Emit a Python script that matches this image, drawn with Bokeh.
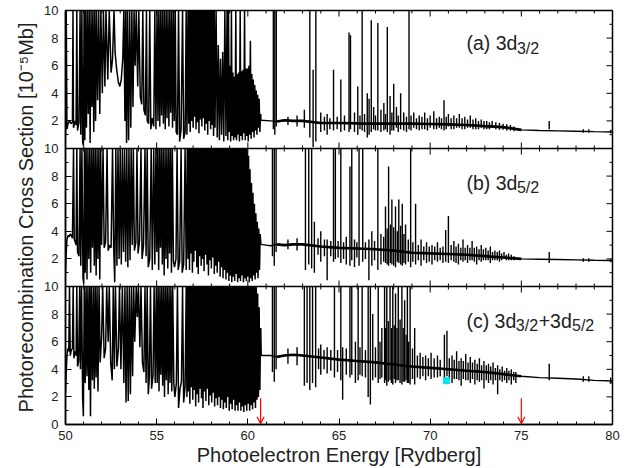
import numpy as np
from bokeh.plotting import figure
from bokeh.models import FixedTicker, Span, Arrow, OpenHead, Label, ColumnDataSource
from bokeh.embed import file_html
from bokeh.resources import INLINE

# ---------------- data (12 = off-scale, clipped at 10) ----------------
x_major_ticks = [50, 55, 60, 65, 70, 75, 80]
y_tick_values = [0, 2, 4, 6, 8, 10]

# (a) 3d3/2 : dense resonance region, vertices (energy, cross section)
a_dense = [
    (50.00, 1.0), (50.04, 12), (50.08, 1.4), (50.14, 1.8), (50.22, 2.0), (50.30, 1.8), (50.38, 1.9), (50.41, 12),
    (50.44, 1.5), (50.52, 2.0), (50.58, 1.7), (50.62, 12), (50.66, 1.3), (50.74, 1.9), (50.80, 12), (50.84, 1.0),
    (50.90, 12), (50.94, 0.5), (50.98, 0.2), (51.02, 12), (51.06, 0.6), (51.10, 12), (51.15, 1.5), (51.20, 12),
    (51.25, 2.5), (51.30, 12), (51.35, 0.4), (51.40, 12), (51.45, 3.0), (51.50, 12), (51.55, 1.2), (51.60, 12),
    (51.65, 2.0), (51.70, 12), (51.76, 3.5), (51.82, 12), (51.88, 2.5), (51.94, 12), (52.02, 4.0), (52.08, 12),
    (52.16, 4.5), (52.22, 12), (52.32, 5.0), (52.40, 12), (52.50, 5.5), (52.58, 6.5), (52.66, 12), (52.72, 7.0),
    (52.80, 5.8), (52.90, 4.8), (52.98, 4.5), (53.06, 5.0), (53.14, 6.5), (53.20, 12), (53.26, 2.0), (53.30, 12),
    (53.35, 0.4), (53.40, 12), (53.46, 0.6), (53.52, 12), (53.58, 1.5), (53.64, 12), (53.70, 3.0), (53.76, 12),
    (53.82, 6.0), (53.88, 12), (53.96, 4.5), (54.02, 12), (54.10, 3.8), (54.18, 3.2), (54.24, 12), (54.30, 2.8),
    (54.38, 2.4), (54.44, 12), (54.48, 2.0), (54.56, 1.8), (54.62, 12), (54.68, 1.4), (54.76, 2.2), (54.84, 1.6),
    (54.90, 12), (54.96, 1.4), (55.02, 12), (55.07, 2.0), (55.12, 12), (55.17, 1.6), (55.22, 12), (55.27, 2.4),
    (55.32, 12), (55.37, 1.8), (55.42, 12), (55.47, 1.4), (55.52, 12), (55.57, 2.2), (55.62, 12), (55.67, 1.6),
    (55.72, 12), (55.77, 2.6), (55.82, 12), (55.87, 1.5), (55.92, 12), (55.97, 2.0), (56.02, 12), (56.07, 1.2),
    (56.14, 1.0), (56.20, 12), (56.26, 0.5), (56.34, 1.4), (56.42, 12), (56.48, 0.7), (56.56, 1.2), (56.62, 12),
    (56.66, 1.0), (56.72, 12), (56.76, 1.8), (56.80, 12), (56.84, 1.2), (56.88, 12), (56.92, 2.0), (56.96, 12),
    (57.00, 1.5), (57.04, 12), (57.08, 2.3), (57.12, 12), (57.16, 1.4), (57.20, 12), (57.24, 1.9), (57.28, 12),
    (57.32, 1.1), (57.36, 12), (57.40, 2.1), (57.44, 12), (57.48, 1.6), (57.52, 12), (57.56, 2.2), (57.60, 12),
    (57.64, 1.3), (57.68, 12), (57.72, 1.8), (57.76, 12), (57.80, 1.0), (57.84, 12), (57.88, 2.0), (57.92, 12),
    (57.96, 1.4), (58.00, 12), (58.04, 1.7), (58.08, 12), (58.12, 0.9), (58.16, 12), (58.20, 1.5), (58.26, 12),
    (58.32, 0.8), (58.38, 7.5), (58.44, 0.6), (58.50, 6.5), (58.56, 1.0), (58.62, 7.0), (58.68, 0.5), (58.74, 12),
    (58.80, 0.9), (58.86, 12), (58.90, 0.6), (58.94, 12), (58.98, 1.2), (59.02, 6.0), (59.06, 0.5), (59.10, 12),
    (59.14, 0.9), (59.18, 5.5), (59.22, 0.6), (59.26, 5.2), (59.30, 0.8), (59.34, 12), (59.38, 0.6), (59.42, 5.4),
    (59.46, 1.0), (59.50, 5.5), (59.54, 0.5), (59.58, 12), (59.62, 0.9), (59.66, 5.6), (59.70, 0.6), (59.74, 5.7),
    (59.78, 1.1), (59.82, 12), (59.86, 0.6), (59.90, 5.8), (59.94, 0.9), (59.98, 5.8), (60.02, 0.5), (60.06, 6.0),
    (60.10, 1.0), (60.14, 7.8), (60.18, 0.7), (60.22, 5.4), (60.26, 1.2), (60.30, 5.0), (60.34, 0.8), (60.38, 4.6),
    (60.42, 1.3), (60.46, 4.2), (60.50, 1.0), (60.54, 3.9), (60.58, 1.5), (60.62, 3.6), (60.66, 1.2), (60.70, 2.5),
]
a_base = [
    (60.72, 2.05), (61.25, 2.0), (61.6, 1.95), (62.0, 2.05), (62.5, 2.0), (63.0, 2.0), (64.0, 1.85), (65.0, 1.85),
    (66.0, 1.82), (67.0, 1.8), (68.0, 1.8), (69.0, 1.8), (70.0, 1.78), (71.0, 1.75), (72.0, 1.7), (73.0, 1.62),
    (74.0, 1.55), (75.0, 1.35), (76.0, 1.3), (77.0, 1.28), (78.0, 1.25), (79.0, 1.22), (80.0, 1.2),
]
# isolated resonances: (energy, top, bottom)
a_spikes = [
    (61.40, 12, 1.4), (61.48, 12, 1.0), (61.56, 12, 1.6), (62.20, 2.3, 1.7), (62.70, 2.4, 1.6), (63.10, 2.8, 1.5),
    (63.40, 12, 0.8), (63.58, 5.7, 0.1), (63.73, 12, 0.5), (64.00, 2.6, 1.2), (64.20, 2.3, 1.3), (64.35, 2.5, 1.0),
    (64.50, 2.2, 1.4), (64.70, 5.7, 1.3), (64.90, 2.3, 1.4), (65.10, 5.0, 1.2), (65.30, 2.4, 1.3), (65.55, 8.4, 1.2),
    (65.63, 8.2, 1.4), (65.85, 2.6, 1.2), (66.03, 4.5, 1.0), (66.15, 2.4, 1.4), (66.27, 12, 1.3), (66.40, 2.5, 1.2),
    (66.55, 4.0, 0.8), (66.65, 3.6, 1.0), (66.77, 9.3, 1.2), (66.90, 3.0, 1.4), (67.00, 2.4, 1.3), (67.13, 9.1, 1.3),
    (67.30, 2.8, 1.2), (67.46, 3.3, 1.3), (67.55, 2.5, 1.4), (67.65, 8.8, 1.2), (67.80, 3.8, 1.0), (67.90, 2.6, 1.3),
    (68.00, 4.7, 1.3), (68.15, 3.0, 1.5), (68.25, 2.4, 1.2), (68.38, 4.0, 1.4), (68.55, 2.6, 1.3), (68.70, 2.3, 1.2),
    (68.84, 12, 1.4), (68.95, 2.4, 1.3), (69.10, 2.6, 1.5), (69.25, 2.2, 1.4), (69.40, 2.4, 1.3), (69.55, 2.3, 1.4),
    (69.70, 2.6, 1.4), (69.85, 2.2, 1.3), (70.00, 2.4, 1.5), (70.20, 2.7, 1.4), (70.35, 2.2, 1.4), (70.50, 2.3, 1.5),
    (70.62, 2.2, 1.4), (70.76, 3.5, 1.3), (70.88, 2.3, 1.4), (71.00, 2.5, 1.6), (71.15, 2.2, 1.4), (71.30, 2.4, 1.4),
    (71.45, 2.2, 1.5), (71.60, 2.5, 1.5), (71.75, 2.2, 1.4), (71.90, 2.3, 1.4), (72.05, 2.1, 1.5), (72.20, 2.4, 1.5),
    (72.35, 2.1, 1.4), (72.50, 2.2, 1.4), (72.65, 2.0, 1.4), (72.80, 2.1, 1.5), (72.95, 2.0, 1.4), (73.10, 2.0, 1.4),
    (73.25, 1.9, 1.4), (73.40, 2.0, 1.5), (73.60, 1.9, 1.4), (73.80, 1.85, 1.35), (74.00, 1.8, 1.35),
    (74.20, 1.75, 1.3), (74.40, 1.7, 1.3), (74.60, 1.6, 1.25), (76.53, 2.0, 1.4), (78.40, 1.4, 1.15),
    (78.70, 1.4, 1.15), (79.90, 1.35, 1.1),
]

# (b) 3d5/2
b_dense = [
    (50.00, 1.0), (50.04, 2.5), (50.08, 3.4), (50.14, 3.7), (50.20, 3.6), (50.26, 3.8), (50.32, 3.7), (50.38, 3.5),
    (50.44, 12), (50.48, 3.4), (50.54, 3.2), (50.58, 3.0), (50.62, 12), (50.66, 2.5), (50.74, 2.2), (50.80, 12),
    (50.84, 1.5), (50.90, 12), (50.96, 0.6), (51.00, 0.2), (51.04, 12), (51.08, 1.0), (51.13, 12), (51.18, 0.5),
    (51.23, 12), (51.28, 2.0), (51.33, 12), (51.38, 1.0), (51.43, 12), (51.48, 2.8), (51.53, 12), (51.58, 1.5),
    (51.63, 12), (51.68, 0.8), (51.73, 12), (51.78, 2.0), (51.83, 12), (51.88, 0.5), (51.93, 12), (51.98, 3.0),
    (52.06, 12), (52.12, 2.8), (52.20, 3.2), (52.28, 12), (52.34, 2.6), (52.42, 3.0), (52.50, 2.8), (52.58, 12),
    (52.64, 3.0), (52.70, 0.3), (52.76, 12), (52.82, 1.5), (52.88, 12), (52.94, 2.0), (53.00, 12), (53.06, 1.6),
    (53.12, 12), (53.18, 2.5), (53.24, 12), (53.30, 1.8), (53.36, 12), (53.42, 1.4), (53.48, 12), (53.54, 1.9),
    (53.60, 12), (53.66, 3.0), (53.72, 12), (53.78, 2.6), (53.86, 3.2), (53.92, 12), (53.98, 2.4), (54.06, 3.3),
    (54.14, 12), (54.20, 2.0), (54.28, 3.0), (54.36, 12), (54.42, 2.2), (54.48, 12), (54.54, 1.4), (54.62, 2.0),
    (54.70, 12), (54.76, 1.2), (54.84, 12), (54.90, 1.6), (54.96, 12), (55.01, 2.5), (55.06, 12), (55.11, 1.2),
    (55.16, 12), (55.21, 2.8), (55.26, 12), (55.31, 1.6), (55.36, 12), (55.41, 0.8), (55.46, 12), (55.51, 2.0),
    (55.56, 12), (55.61, 1.3), (55.66, 12), (55.71, 2.4), (55.76, 12), (55.81, 1.0), (55.86, 12), (55.92, 1.8),
    (55.98, 1.4), (56.06, 2.0), (56.12, 12), (56.18, 1.2), (56.26, 1.8), (56.34, 12), (56.40, 1.0), (56.48, 1.6),
    (56.56, 12), (56.62, 1.2), (56.68, 12), (56.72, 2.0), (56.76, 12), (56.80, 1.2), (56.84, 12), (56.88, 2.4),
    (56.92, 12), (56.96, 1.0), (57.00, 12), (57.04, 1.8), (57.08, 12), (57.12, 2.6), (57.16, 12), (57.20, 1.4),
    (57.24, 12), (57.28, 0.9), (57.32, 12), (57.36, 2.2), (57.40, 12), (57.44, 1.5), (57.48, 12), (57.52, 2.0),
    (57.56, 12), (57.60, 1.1), (57.64, 12), (57.68, 2.3), (57.72, 12), (57.76, 1.6), (57.80, 12), (57.84, 0.8),
    (57.88, 12), (57.92, 1.9), (57.96, 12), (58.00, 1.3), (58.04, 12), (58.08, 2.1), (58.12, 12), (58.16, 0.9),
    (58.20, 12), (58.24, 1.5), (58.28, 12), (58.32, 1.0), (58.36, 12), (58.40, 1.8), (58.44, 12), (58.48, 0.7),
    (58.52, 12), (58.56, 1.4), (58.60, 12), (58.64, 0.6), (58.68, 12), (58.72, 1.2), (58.76, 12), (58.80, 0.5),
    (58.84, 12), (58.88, 1.0), (58.92, 12), (58.96, 0.4), (59.00, 12), (59.04, 0.8), (59.08, 12), (59.12, 0.3),
    (59.16, 12), (59.20, 0.7), (59.24, 12), (59.28, 0.4), (59.32, 12), (59.36, 0.9), (59.40, 12), (59.44, 0.3),
    (59.48, 12), (59.52, 0.6), (59.56, 12), (59.60, 0.4), (59.64, 12), (59.68, 0.8), (59.72, 12), (59.76, 0.3),
    (59.80, 12), (59.84, 0.6), (59.88, 12), (59.92, 0.4), (59.96, 12), (60.00, 0.7), (60.04, 9.5), (60.08, 0.3),
    (60.12, 8.5), (60.16, 0.6), (60.20, 7.5), (60.24, 0.4), (60.28, 6.8), (60.32, 0.8), (60.36, 6.0), (60.40, 0.5),
    (60.44, 5.3), (60.48, 1.0), (60.52, 4.7), (60.56, 0.6), (60.60, 4.2), (60.64, 1.2), (60.68, 3.8),
]
b_base = [
    (60.72, 3.05), (61.0, 3.0), (61.25, 2.95), (61.6, 3.05), (62.0, 3.0), (62.5, 3.05), (63.0, 3.05), (64.0, 2.9),
    (65.0, 2.8), (66.0, 2.75), (67.0, 2.7), (68.0, 2.6), (69.0, 2.45), (70.0, 2.4), (71.0, 2.35), (72.0, 2.3),
    (73.0, 2.2), (74.0, 2.1), (75.0, 2.0), (76.0, 1.98), (77.0, 1.96), (78.0, 1.93), (79.0, 1.9), (80.0, 1.88),
]
b_spikes = [
    (61.35, 12, 2.2), (61.45, 12, 1.5), (61.55, 12, 2.5), (62.20, 3.4, 2.7), (62.70, 3.5, 2.6), (63.16, 12, 1.2),
    (63.34, 12, 1.6), (63.50, 12, 1.3), (63.65, 4.7, 1.0), (63.85, 3.5, 2.3), (64.00, 4.0, 1.8), (64.20, 3.4, 2.2),
    (64.35, 3.4, 0.45), (64.55, 3.3, 2.2), (64.70, 12, 1.8), (64.80, 12, 2.0), (64.95, 3.3, 2.1), (65.10, 12, 1.7),
    (65.25, 3.2, 2.0), (65.40, 3.6, 1.6), (65.60, 8.7, 1.5), (65.70, 12, 1.9), (65.85, 3.4, 1.4), (65.98, 3.2, 2.1),
    (66.10, 12, 1.5), (66.30, 12, 1.8), (66.45, 3.2, 2.0), (66.64, 3.4, 0.45), (66.80, 4.0, 1.5), (66.95, 3.3, 1.9),
    (67.13, 12, 1.2), (67.30, 3.8, 1.6), (67.45, 3.6, 1.8), (67.55, 5.8, 1.7), (67.64, 4.2, 1.6), (67.72, 8.7, 1.5),
    (67.82, 4.5, 1.7), (67.90, 6.3, 1.6), (68.00, 4.3, 1.5), (68.10, 5.8, 1.4), (68.20, 4.0, 1.8), (68.28, 6.3, 1.7),
    (68.38, 4.4, 1.6), (68.47, 6.0, 1.5), (68.56, 3.8, 1.7), (68.65, 4.5, 1.6), (68.80, 3.4, 1.8), (68.93, 12, 1.4),
    (69.05, 3.2, 1.8), (69.20, 6.0, 1.6), (69.35, 3.0, 1.9), (69.50, 3.4, 1.5), (69.65, 2.9, 1.9), (69.80, 3.2, 1.7),
    (69.95, 2.9, 1.8), (70.10, 3.0, 1.6), (70.25, 2.9, 1.9), (70.40, 3.2, 1.8), (70.55, 2.8, 1.9), (70.70, 2.9, 1.7),
    (70.85, 4.1, 1.8), (71.00, 5.1, 1.7), (71.15, 3.0, 1.9), (71.30, 3.3, 1.8), (71.42, 2.9, 1.7), (71.55, 3.1, 1.6),
    (71.68, 2.8, 1.9), (71.80, 3.4, 1.8), (71.92, 2.8, 1.9), (72.05, 3.0, 1.7), (72.18, 2.8, 1.9), (72.30, 3.3, 1.9),
    (72.42, 2.8, 1.8), (72.55, 2.9, 1.6), (72.68, 2.7, 1.9), (72.80, 3.0, 1.8), (72.92, 2.7, 1.9), (73.05, 2.8, 1.9),
    (73.18, 2.6, 1.9), (73.30, 2.9, 1.7), (73.42, 2.5, 1.9), (73.55, 2.6, 1.9), (73.68, 2.5, 1.9), (73.80, 2.6, 1.8),
    (73.92, 2.4, 1.9), (74.05, 2.5, 2.0), (74.18, 2.3, 1.9), (74.30, 2.4, 1.9), (74.45, 2.3, 1.9), (74.60, 2.2, 1.9),
    (76.53, 2.5, 1.7), (78.40, 2.05, 1.8), (78.70, 2.05, 1.8), (79.90, 2.0, 1.75),
]

# (c) 3d3/2 + 3d5/2
c_dense = [
    (50.00, 2.3), (50.04, 3.8), (50.08, 5.0), (50.12, 5.5), (50.18, 5.3), (50.22, 12), (50.26, 5.0), (50.32, 5.4),
    (50.38, 5.5), (50.42, 12), (50.46, 4.8), (50.52, 5.3), (50.58, 5.0), (50.62, 12), (50.66, 4.2), (50.72, 4.6),
    (50.78, 12), (50.82, 4.0), (50.88, 12), (50.94, 2.0), (50.98, 0.6), (51.03, 12), (51.08, 3.0), (51.13, 12),
    (51.18, 3.5), (51.23, 12), (51.28, 2.5), (51.33, 12), (51.37, 0.6), (51.42, 12), (51.48, 3.2), (51.53, 12),
    (51.58, 2.6), (51.63, 12), (51.68, 3.4), (51.73, 12), (51.78, 2.4), (51.84, 12), (51.90, 4.5), (51.98, 6.3),
    (52.04, 12), (52.12, 4.8), (52.20, 5.5), (52.26, 12), (52.34, 6.0), (52.40, 12), (52.48, 4.5), (52.56, 3.2),
    (52.62, 12), (52.68, 4.0), (52.74, 12), (52.82, 4.2), (52.90, 5.5), (52.96, 12), (53.04, 4.0), (53.12, 12),
    (53.20, 3.0), (53.26, 12), (53.32, 1.6), (53.38, 12), (53.44, 1.7), (53.50, 12), (53.56, 2.2), (53.62, 12),
    (53.68, 3.5), (53.74, 12), (53.80, 6.0), (53.88, 12), (53.94, 7.8), (54.00, 12), (54.08, 5.6), (54.14, 12),
    (54.22, 4.5), (54.30, 3.8), (54.36, 12), (54.42, 3.0), (54.48, 12), (54.54, 2.2), (54.60, 3.5), (54.66, 12),
    (54.72, 2.6), (54.80, 3.6), (54.86, 12), (54.92, 3.0), (54.98, 12), (55.03, 3.0), (55.08, 12), (55.13, 2.4),
    (55.18, 12), (55.23, 3.6), (55.28, 12), (55.33, 2.8), (55.38, 12), (55.43, 2.0), (55.48, 12), (55.53, 3.2),
    (55.58, 12), (55.63, 2.2), (55.68, 12), (55.73, 3.0), (55.78, 12), (55.83, 2.4), (55.88, 12), (55.94, 3.0),
    (56.00, 2.0), (56.08, 3.0), (56.14, 12), (56.20, 1.2), (56.28, 2.6), (56.36, 3.1), (56.42, 12), (56.48, 1.6),
    (56.56, 2.8), (56.62, 12), (56.66, 2.0), (56.70, 12), (56.74, 2.4), (56.78, 12), (56.82, 1.5), (56.86, 12),
    (56.90, 2.7), (56.94, 12), (56.98, 1.8), (57.02, 12), (57.06, 2.5), (57.10, 12), (57.14, 1.3), (57.18, 12),
    (57.22, 2.2), (57.26, 12), (57.30, 1.6), (57.34, 12), (57.38, 2.6), (57.42, 12), (57.46, 1.9), (57.50, 12),
    (57.54, 1.2), (57.58, 12), (57.62, 2.4), (57.66, 12), (57.70, 1.7), (57.74, 12), (57.78, 2.6), (57.82, 12),
    (57.86, 1.4), (57.90, 12), (57.94, 2.1), (57.98, 12), (58.02, 1.6), (58.06, 12), (58.10, 2.3), (58.14, 12),
    (58.18, 1.3), (58.22, 12), (58.26, 1.9), (58.30, 12), (58.34, 1.4), (58.38, 12), (58.42, 2.0), (58.46, 12),
    (58.50, 1.2), (58.54, 12), (58.58, 1.8), (58.62, 12), (58.66, 1.1), (58.70, 12), (58.74, 1.6), (58.78, 12),
    (58.82, 1.2), (58.86, 12), (58.90, 2.0), (58.94, 12), (58.98, 1.0), (59.02, 12), (59.06, 1.5), (59.10, 12),
    (59.14, 1.1), (59.18, 12), (59.22, 1.8), (59.26, 12), (59.30, 1.0), (59.34, 12), (59.38, 1.4), (59.42, 12),
    (59.46, 1.0), (59.50, 12), (59.54, 1.6), (59.58, 12), (59.62, 1.0), (59.66, 12), (59.70, 1.3), (59.74, 12),
    (59.78, 0.9), (59.82, 12), (59.86, 1.4), (59.90, 12), (59.94, 1.0), (59.98, 12), (60.02, 1.5), (60.06, 12),
    (60.10, 1.0), (60.14, 12), (60.18, 1.4), (60.22, 12), (60.26, 1.1), (60.30, 12), (60.34, 1.6), (60.38, 12),
    (60.42, 1.2), (60.46, 11), (60.50, 1.8), (60.54, 9.5), (60.58, 2.0), (60.62, 8.5), (60.66, 2.5), (60.70, 7.0),
]
c_base = [
    (60.74, 5.0), (61.25, 5.0), (61.6, 4.9), (62.0, 5.0), (62.5, 5.05), (63.0, 5.0), (64.0, 4.85), (65.0, 4.7),
    (66.0, 4.6), (67.0, 4.5), (68.0, 4.35), (69.0, 4.2), (70.0, 4.1), (71.0, 4.0), (72.0, 3.9), (73.0, 3.8),
    (74.0, 3.65), (75.0, 3.5), (76.0, 3.4), (77.0, 3.35), (78.0, 3.3), (79.0, 3.2), (80.0, 3.15),
]
c_spikes = [
    (61.35, 12, 3.8), (61.45, 12, 3.1), (61.55, 12, 4.0), (62.20, 5.5, 4.4), (62.70, 5.6, 4.3), (63.10, 12, 2.8),
    (63.25, 12, 3.0), (63.40, 12, 2.5), (63.55, 12, 3.0), (63.72, 12, 2.7), (63.88, 5.5, 4.0), (64.00, 5.8, 3.6),
    (64.18, 5.4, 4.0), (64.35, 5.6, 3.7), (64.55, 5.4, 3.9), (64.75, 12, 3.4), (64.92, 5.4, 3.8), (65.10, 12, 3.2),
    (65.20, 5.6, 1.8), (65.40, 5.5, 3.6), (65.60, 12, 3.4), (65.70, 12, 3.6), (65.90, 6.0, 3.0), (66.05, 12, 3.2),
    (66.15, 5.6, 3.6), (66.27, 12, 3.5), (66.45, 5.4, 3.4), (66.60, 12, 2.0), (66.72, 12, 1.45), (66.85, 8.0, 3.2),
    (67.00, 5.6, 3.4), (67.15, 12, 3.0), (67.25, 6.0, 3.3), (67.35, 7.0, 3.4), (67.50, 12, 3.0), (67.56, 7.0, 3.2),
    (67.62, 12, 2.8), (67.70, 7.5, 3.1), (67.80, 12, 3.2), (67.88, 7.0, 3.0), (67.95, 12, 2.9), (68.03, 7.2, 3.3),
    (68.10, 9.5, 3.0), (68.18, 7.0, 3.2), (68.25, 12, 3.2), (68.35, 7.6, 3.0), (68.45, 12, 2.9), (68.52, 7.0, 3.1),
    (68.60, 9.0, 3.1), (68.68, 6.5, 3.2), (68.75, 12, 3.0), (68.82, 6.0, 3.0), (68.90, 12, 2.9), (69.03, 5.5, 3.3),
    (69.15, 7.0, 2.9), (69.30, 5.0, 3.4), (69.45, 5.2, 3.3), (69.60, 4.9, 3.5), (69.75, 5.0, 3.2), (69.90, 4.8, 3.5),
    (70.05, 5.2, 3.3), (70.22, 4.8, 3.4), (70.40, 5.0, 3.4), (70.55, 4.7, 3.5), (70.78, 6.5, 3.2), (70.92, 6.8, 3.5),
    (71.05, 4.8, 3.2), (71.20, 5.0, 3.0), (71.32, 4.7, 3.3), (71.45, 5.3, 3.3), (71.58, 4.6, 3.2), (71.70, 4.8, 2.8),
    (71.82, 4.6, 3.3), (71.95, 5.1, 3.2), (72.08, 4.5, 3.2), (72.20, 4.9, 3.0), (72.32, 4.5, 3.3), (72.45, 4.7, 2.9),
    (72.58, 4.4, 3.2), (72.70, 4.8, 3.1), (72.82, 4.3, 3.2), (72.95, 4.6, 2.6), (73.08, 4.3, 3.2), (73.20, 4.4, 3.0),
    (73.32, 4.2, 3.2), (73.45, 4.5, 2.9), (73.58, 4.1, 3.2), (73.70, 4.3, 2.2), (73.82, 4.0, 3.2), (73.95, 4.2, 3.1),
    (74.08, 3.9, 3.2), (74.20, 4.1, 3.0), (74.32, 3.9, 3.2), (74.45, 4.0, 2.9), (74.58, 3.8, 3.2), (74.70, 3.8, 3.0),
    (76.53, 4.4, 3.2), (78.40, 3.5, 3.1), (78.70, 3.5, 3.1), (79.90, 3.4, 3.0),
]

# markers in panel (c)
arrow_x = [60.7, 75.0]
arrow_top = [1.9, 1.9]
square_x = [70.89]
square_y = [3.17]

# ---------------- drawing ----------------
FONT = "Liberation Sans"
TXT = "#222222"
PANEL_H = 10.0  # each panel spans 0..10
X0, X1 = 50, 80

p = figure(width=632, height=468, x_range=(X0, X1), y_range=(0, 3 * PANEL_H),
           output_backend="svg", toolbar_location=None,
           min_border_left=65, min_border_right=20, min_border_top=10, min_border_bottom=44)
p.grid.visible = False
p.outline_line_color = "black"
p.outline_line_width = 1.5
p.background_fill_color = "white"
p.border_fill_color = "white"


def clip(v):
    return np.minimum(np.asarray(v, dtype=float), PANEL_H)


panels = [(a_dense, a_base, a_spikes, 2 * PANEL_H),
          (b_dense, b_base, b_spikes, PANEL_H),
          (c_dense, c_base, c_spikes, 0.0)]

for dense, base, spikes, off in panels:
    dx, dy = zip(*dense)
    bx, by = zip(*base)
    p.line(list(dx), clip(dy) + off, line_color="black", line_width=1.5)
    p.line([dx[-1]] + list(bx), clip([dy[-1]] + list(by)) + off, line_color="black", line_width=1.4)
    bx = np.array(bx)
    by = np.array(by)
    m = (bx >= 61.6) & (bx <= 75.0)
    p.line(bx[m], by[m] + off, line_color="black", line_width=2.6)
    sx, st, sb = zip(*spikes)
    p.segment(x0=list(sx), y0=clip(sb) + off, x1=list(sx), y1=clip(st) + off,
              line_color="black", line_width=1.4)

# frame ticks drawn inside the frame: x ticks on every panel edge, y ticks on the right edge
px_per_y = 13.75
px_per_x = 18.2
maj_x = [t for t in range(X0, X1 + 1) if t % 5 == 0]
mnr_x = [t for t in range(X0, X1 + 1) if t % 5 != 0]
for yb in (PANEL_H, 2 * PANEL_H):
    p.add_layout(Span(location=yb, dimension="width", line_color="black", line_width=1.5))
    p.segment(x0=maj_x, y0=[yb - 6 / px_per_y] * len(maj_x), x1=maj_x, y1=[yb + 6 / px_per_y] * len(maj_x),
              line_color="black", line_width=1)
    p.segment(x0=mnr_x, y0=[yb - 3 / px_per_y] * len(mnr_x), x1=mnr_x, y1=[yb + 3 / px_per_y] * len(mnr_x),
              line_color="black", line_width=1)
ytop = 3 * PANEL_H
p.segment(x0=maj_x, y0=[ytop - 6 / px_per_y] * len(maj_x), x1=maj_x, y1=[ytop] * len(maj_x),
          line_color="black", line_width=1)
p.segment(x0=mnr_x, y0=[ytop - 3 / px_per_y] * len(mnr_x), x1=mnr_x, y1=[ytop] * len(mnr_x),
          line_color="black", line_width=1)
ymaj = sorted(set(v + k * PANEL_H for k in range(3) for v in y_tick_values))
ymnr = [v for v in range(0, int(ytop) + 1) if v not in ymaj]
p.segment(x0=[X1 - 6 / px_per_x] * len(ymaj), y0=ymaj, x1=[X1] * len(ymaj), y1=ymaj,
          line_color="black", line_width=1)
p.segment(x0=[X1 - 3 / px_per_x] * len(ymnr), y0=ymnr, x1=[X1] * len(ymnr), y1=ymnr,
          line_color="black", line_width=1)

# axes
xt = FixedTicker(ticks=x_major_ticks, minor_ticks=list(range(X0, X1 + 1)))
yt = FixedTicker(ticks=ymaj, minor_ticks=list(range(0, int(ytop) + 1)))
ylab = {}
for t in ymaj:
    r = t % PANEL_H
    ylab[t] = str(int(r)) if r != 0 else ("0" if t == 0 else "10")


def style(ax):
    ax.major_tick_in = 6
    ax.major_tick_out = 0
    ax.minor_tick_in = 3
    ax.minor_tick_out = 0
    ax.axis_line_width = 1.5
    ax.major_tick_line_width = 1
    ax.minor_tick_line_width = 1
    ax.major_label_text_font = FONT
    ax.major_label_text_font_size = "13px"
    ax.major_label_text_color = TXT
    ax.axis_label_text_font = FONT
    ax.axis_label_text_font_size = "20px"
    ax.axis_label_text_font_style = "normal"
    ax.axis_label_text_color = TXT


xa = p.xaxis[0]
xa.ticker = xt
style(xa)
xa.major_label_standoff = 6
xa.axis_label = "Photoelectron Energy [Rydberg]"
xa.axis_label_standoff = 1

ya = p.yaxis[0]
ya.ticker = yt
style(ya)
ya.major_label_overrides = ylab
ya.major_label_standoff = 7
ya.axis_label = "Photorecombination Cross Section [10\u207b\u2075Mb]"
ya.axis_label_standoff = 4


# panel labels
def lab(x, y, t, size):
    p.add_layout(Label(x=x, y=y, text=t, text_font=FONT, text_font_size=size,
                       text_color=TXT, text_baseline="alphabetic"))


lab(71.99, 27.64, "(a) 3d", "19.5px")
lab(74.76, 27.27, "3/2", "16px")
lab(71.99, 17.50, "(b) 3d", "19.5px")
lab(74.76, 17.18, "5/2", "16px")
lab(71.99, 7.51, "(c) 3d", "19.5px")
lab(74.70, 7.20, "3/2", "16px")
lab(75.95, 7.51, "+3d", "19.5px")
lab(77.78, 7.20, "5/2", "16px")

# red arrows and cyan marker in panel (c)
asrc = ColumnDataSource(dict(x=arrow_x, y0=arrow_top, y1=[0.05] * len(arrow_x)))
p.add_layout(Arrow(end=OpenHead(size=7, line_color="red", line_width=1.2),
                   x_start="x", y_start="y0", x_end="x", y_end="y1", source=asrc,
                   line_color="red", line_width=1.2))
p.scatter(square_x, square_y, marker="square", size=6, fill_color="#00e5f0", line_color="#00e5f0")

open("out.html", "w").write(file_html(p, INLINE))
